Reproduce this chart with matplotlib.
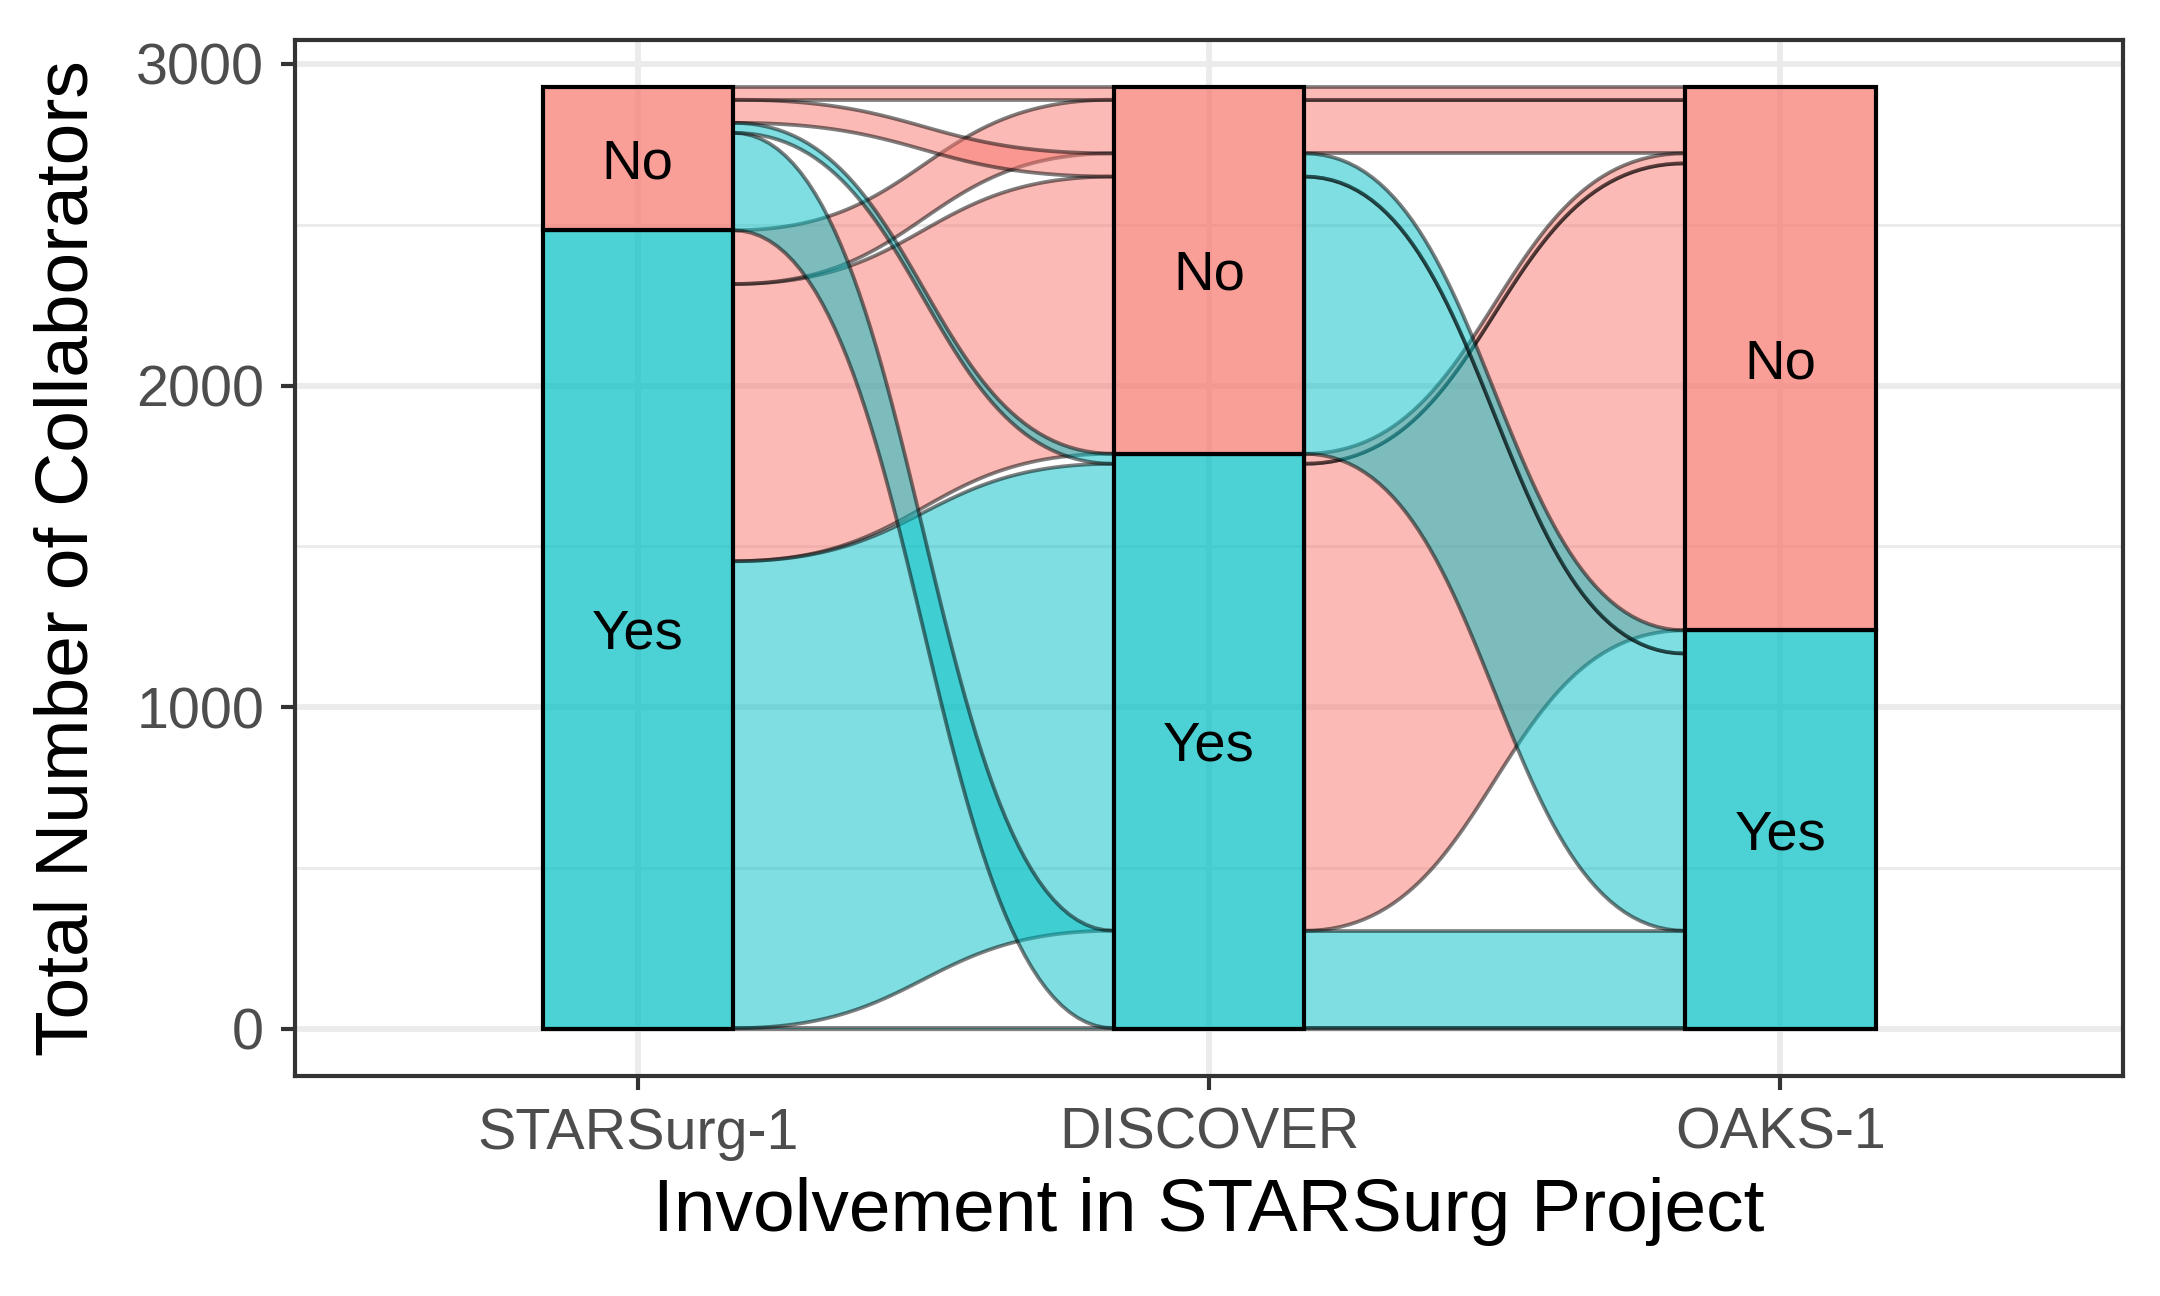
import numpy as np
import matplotlib
matplotlib.use("Agg")
import matplotlib.pyplot as plt
from matplotlib.patches import Polygon, Rectangle
from matplotlib.colors import to_rgba
from matplotlib.transforms import offset_copy

plt.rcParams['font.family'] = ['Liberation Sans', 'DejaVu Sans']

# one row per alluvium: answer at each project, and the number of collaborators
axes_names = ['STARSurg-1', 'DISCOVER', 'OAKS-1']
starsurg = ['Yes', 'Yes', 'Yes', 'Yes', 'No', 'No', 'No', 'No']
discover = ['Yes', 'Yes', 'No', 'No', 'Yes', 'Yes', 'No', 'No']
oaks = ['Yes', 'No', 'Yes', 'No', 'Yes', 'No', 'Yes', 'No']
counts = [2, 1452, 862, 167, 303, 31, 72, 39]

levels = ['Yes', 'No']            # stacked from the bottom
colours = {'No': '#F8766D', 'Yes': '#00BFC4'}

answers = [starsurg, discover, oaks]
n = np.array(counts, dtype=float)
total = n.sum()
rank = {lv: i for i, lv in enumerate(levels)}

# lode order inside each stratum (zigzag over the other axes)
orders = [[0, 1, 2], [1, 2, 0], [2, 1, 0]]
lode_lo = np.zeros((3, len(n)))
for a in range(3):
    keys = [tuple(rank[answers[k][j]] for k in orders[a]) for j in range(len(n))]
    idx = sorted(range(len(n)), key=lambda j: keys[j])
    pos = 0.0
    for j in idx:
        lode_lo[a, j] = pos
        pos += n[j]

width = 1 / 3

fig = plt.figure(figsize=(7.2, 4.32), dpi=300)
ax = fig.add_axes([0.1366, 0.1698, 0.8463, 0.7993])


def ribbon(x0, x1, lo0, hi0, lo1, hi1, m=60):
    t = np.linspace(0, 1, m)
    xs = x0 + (x1 - x0) * (1.5 * t * (1 - t) + t ** 3)
    s = 3 * t ** 2 - 2 * t ** 3
    lower = lo0 + (lo1 - lo0) * s
    upper = hi0 + (hi1 - hi0) * s
    return np.vstack([np.column_stack([xs, lower]),
                      np.column_stack([xs[::-1], upper[::-1]])])


for lv_draw, z in [('No', 2), ('Yes', 3)]:
    for a in range(2):
        for j in range(len(n)):
            if answers[a + 1][j] != lv_draw:
                continue
            x0 = a + 1 + width / 2
            x1 = a + 2 - width / 2
            pts = ribbon(x0, x1, lode_lo[a, j], lode_lo[a, j] + n[j],
                         lode_lo[a + 1, j], lode_lo[a + 1, j] + n[j])
            ax.add_patch(Polygon(pts, closed=True,
                                 facecolor=to_rgba(colours[lv_draw], 0.5),
                                 edgecolor=(0, 0, 0, 0.5), linewidth=0.9,
                                 zorder=z))

# strata
label_tr = offset_copy(ax.transData, fig=fig, x=0, y=-1.3, units='points')
for a in range(3):
    bottom = 0.0
    for lv in levels:
        h = sum(c for c, v in zip(counts, answers[a]) if v == lv)
        ax.add_patch(Rectangle((a + 1 - width / 2, bottom), width, h,
                               facecolor=to_rgba(colours[lv], 0.7),
                               edgecolor='black', linewidth=1.0, zorder=4))
        ax.text(a + 1, bottom + h / 2, lv, ha='center', va='center',
                fontsize=13.5, color='black', zorder=5, transform=label_tr)
        bottom += h

ax.set_xlim(0.4, 3.6)
ax.set_ylim(-0.05 * total, 1.05 * total)
ax.set_xticks([1, 2, 3])
ax.set_xticklabels(axes_names)
ax.set_yticks([0, 1000, 2000, 3000])
ax.set_yticks([500, 1500, 2500], minor=True)

ax.set_axisbelow(True)
ax.grid(True, which='major', color='#EBEBEB', linewidth=1.4)
ax.grid(True, which='minor', axis='y', color='#EBEBEB', linewidth=0.7)
ax.tick_params(which='minor', length=0)
ax.tick_params(which='major', length=3.4, width=1.0, color='#333333',
               labelcolor='#4D4D4D', labelsize=13.8, pad=4)
for sp in ax.spines.values():
    sp.set_color('#333333')
    sp.set_linewidth(1.0)

ax.set_xlabel('Involvement in STARSurg Project', fontsize=18, labelpad=4)
ax.set_ylabel('Total Number of Collaborators', fontsize=18, labelpad=8)

fig.savefig('out.png', dpi=300)
